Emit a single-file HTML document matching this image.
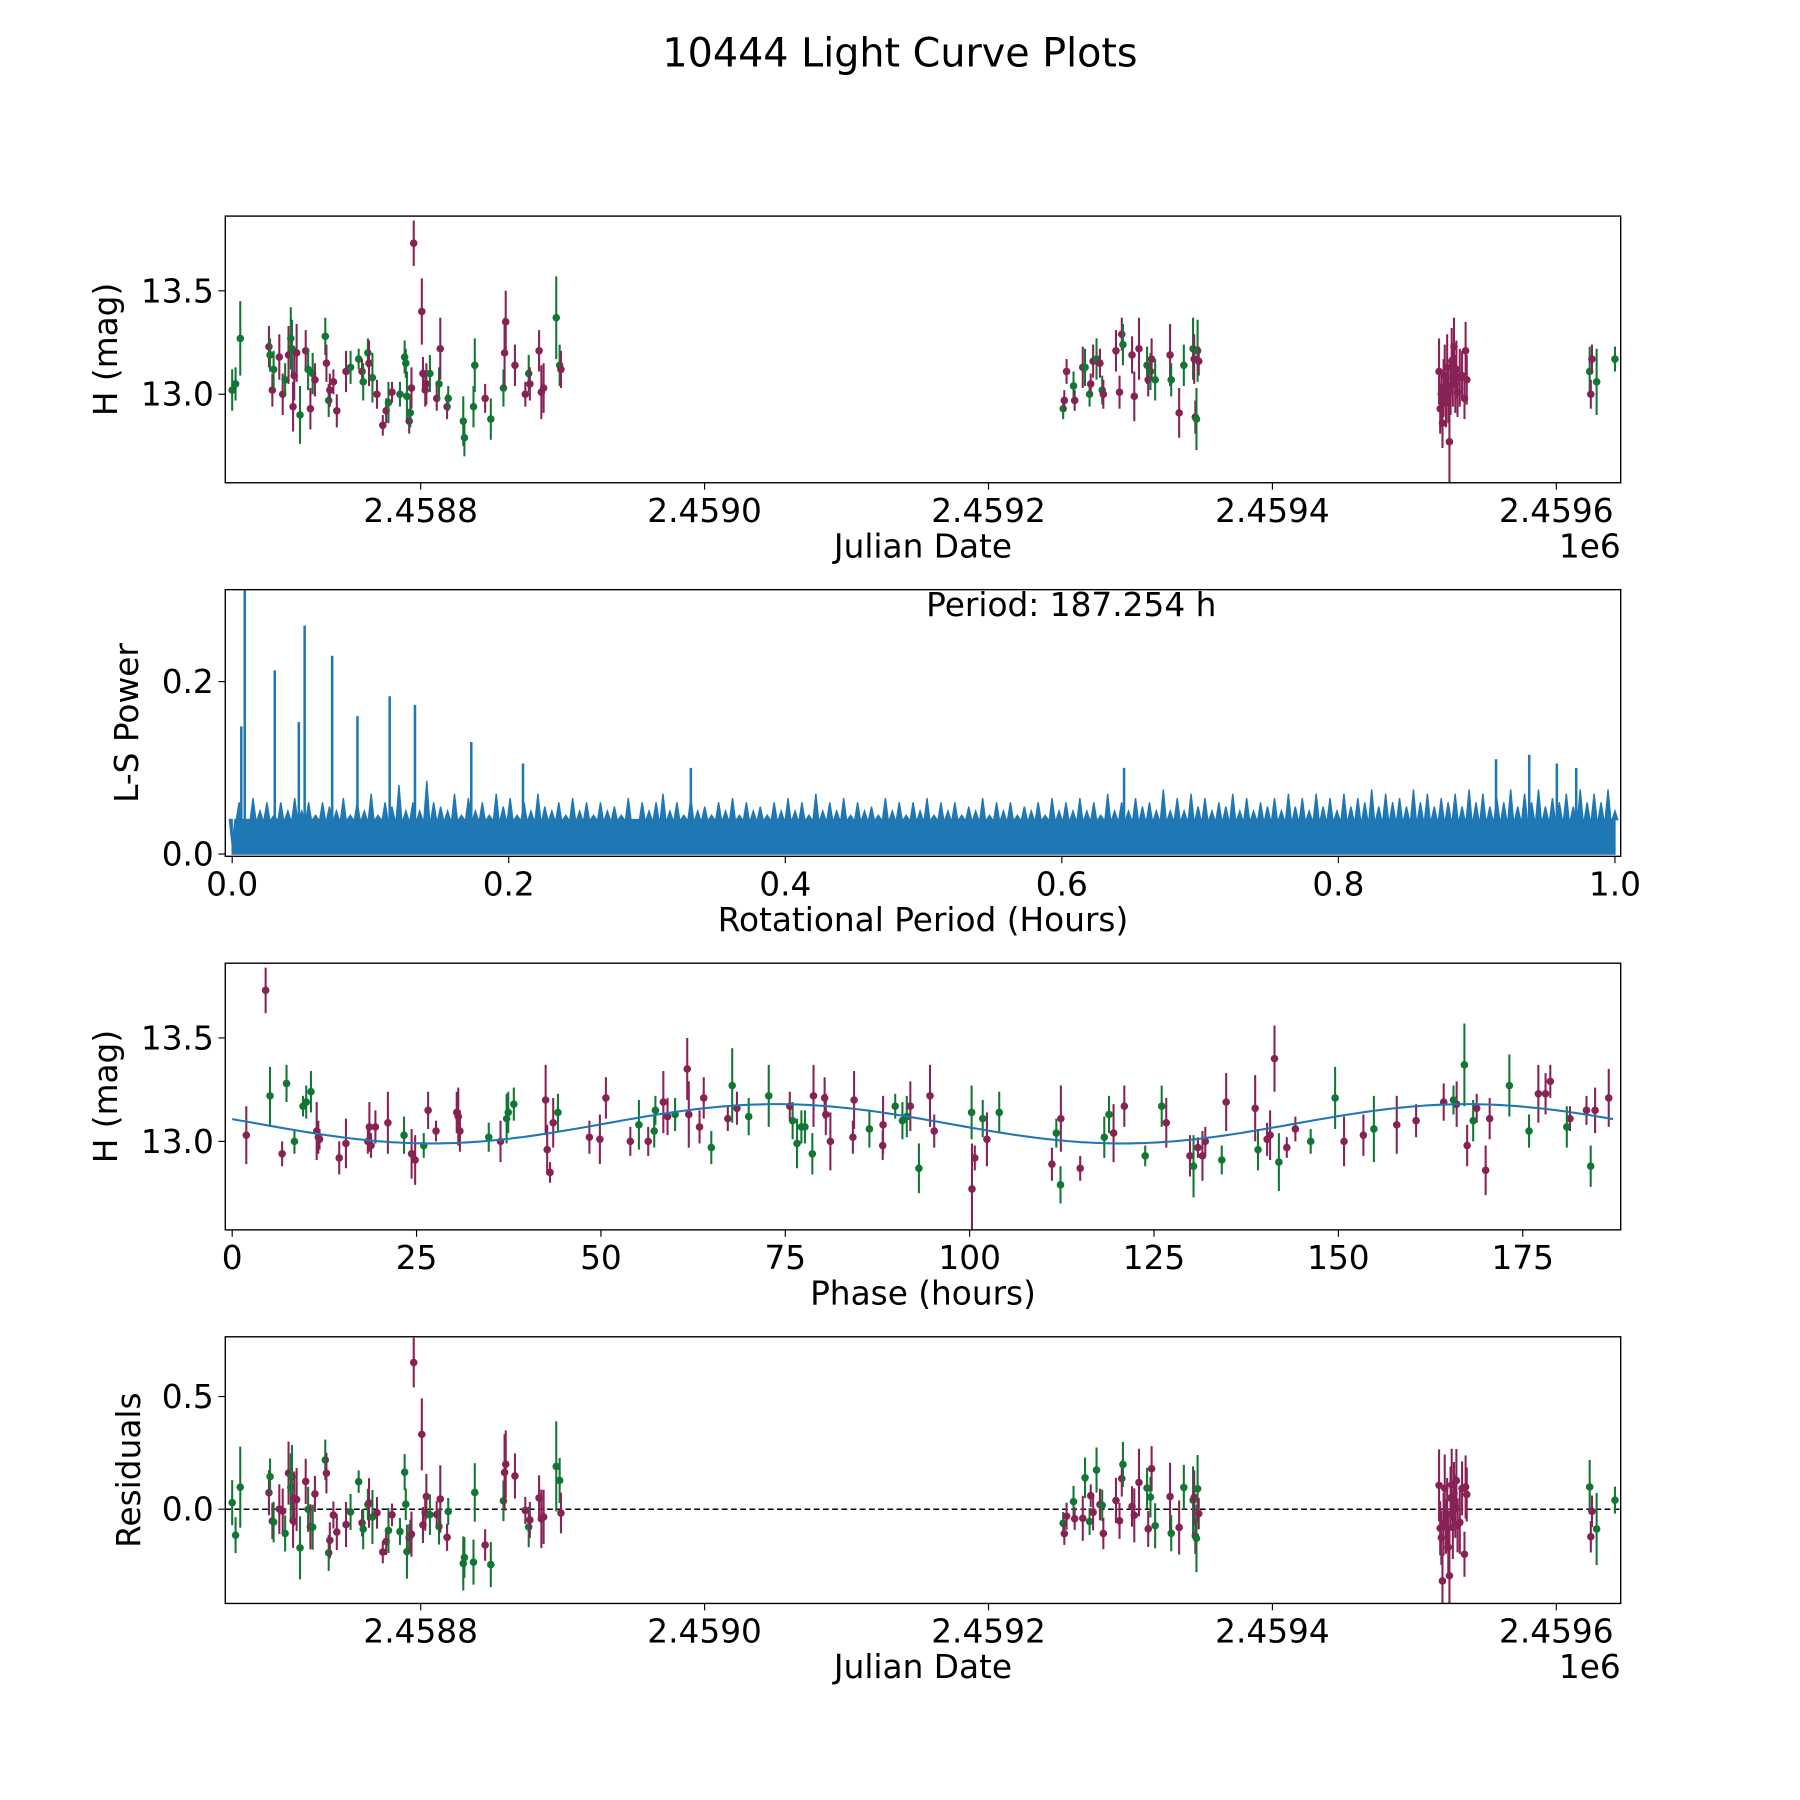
<!DOCTYPE html>
<html><head><meta charset="utf-8"><title>10444 Light Curve Plots</title>
<style>
html,body{margin:0;padding:0;background:#fff;}
svg{display:block;font-family:"DejaVu Sans","Liberation Sans",sans-serif;}
</style></head>
<body>
<svg id="fig" xmlns="http://www.w3.org/2000/svg" width="1800" height="1800" viewBox="0 0 1566 1566">
<rect width="1566" height="1566" fill="#fff"/>
<text x="783" y="58" font-size="34.5" text-anchor="middle" fill="#000">10444 Light Curve Plots</text>
</svg>
<script>
// ---- data (JD - 2458000, magnitude, error, filter: 1=green, 0=maroon) ----
const jdDays = [667.2,669.6,672.9,693.1,693.9,695.5,696.4,700.4,702.8,704.5,706.9,708.5,709.3,710.1,710.9,712.6,715.0,719.0,720.7,722.3,723.9,725.5,732.8,733.6,735.2,736.0,738.5,740.9,747.4,750.6,756.3,758.7,759.5,762.8,763.6,766.0,769.2,773.3,775.7,777.3,779.8,785.4,788.7,789.5,790.3,791.9,792.7,793.5,795.1,800.8,801.6,803.2,804.0,806.5,811.3,812.9,813.8,818.6,819.4,830.0,830.8,837.2,838.1,845.4,849.4,858.3,859.1,859.9,866.4,873.7,876.1,876.9,883.4,885.0,886.6,895.5,897.9,898.8,
1252.6,1253.4,1255.0,1259.9,1260.7,1266.4,1268.0,1271.2,1272.0,1273.7,1276.1,1278.5,1280.1,1280.9,1289.8,1292.3,1293.9,1294.7,1301.1,1302.7,1306.0,1311.7,1312.5,1314.1,1314.9,1317.4,1327.9,1328.7,1334.3,1337.6,1344.1,1344.9,1345.7,1346.5,1347.3,1348.1,
1517.4,1518.2,1519.0,1519.8,1520.6,1521.4,1522.3,1523.1,1523.9,1524.7,1525.5,1526.3,1527.1,1527.9,1528.8,1529.6,1530.4,1532.0,1533.6,1535.3,1536.1,1536.9,
1623.5,1624.3,1625.1,1628.4,1641.3];
const mags = [13.02,13.05,13.27,13.23,13.19,13.02,13.12,13.18,13.0,13.07,13.19,13.27,13.22,12.94,13.09,13.2,12.9,13.21,13.12,12.93,13.1,13.07,13.28,13.15,12.97,13.02,13.06,12.92,13.11,13.13,13.17,13.11,13.06,13.2,13.15,13.08,13.0,12.85,12.92,12.96,13.01,13.0,13.18,13.15,12.99,12.87,12.91,13.03,13.73,13.4,13.1,13.02,13.05,13.1,12.98,13.05,13.22,12.94,12.98,12.87,12.79,12.94,13.14,12.98,12.88,13.03,13.2,13.35,13.14,13.0,13.1,13.05,13.21,13.01,13.03,13.37,13.14,13.12,
12.93,12.97,13.11,13.04,12.97,13.13,13.13,13.0,13.05,13.16,13.17,13.15,13.02,13.0,13.21,13.01,13.29,13.24,13.19,12.99,13.22,13.14,13.07,13.11,13.17,13.07,13.19,13.07,12.91,13.14,13.22,13.17,12.89,12.88,13.21,13.16,
13.11,12.93,13.0,12.86,13.03,13.09,12.96,13.13,13.0,12.77,13.04,13.16,13.08,13.23,13.05,13.12,13.01,13.08,13.09,12.98,13.21,13.07,
13.11,13.0,13.17,13.06,13.17];
const errs = [0.1,0.08,0.18,0.1,0.08,0.08,0.09,0.11,0.1,0.08,0.14,0.15,0.14,0.12,0.12,0.14,0.14,0.1,0.1,0.1,0.1,0.08,0.09,0.09,0.08,0.08,0.06,0.08,0.1,0.08,0.05,0.06,0.09,0.07,0.11,0.12,0.07,0.05,0.06,0.1,0.05,0.06,0.08,0.07,0.12,0.06,0.07,0.1,0.11,0.16,0.08,0.08,0.1,0.09,0.06,0.08,0.15,0.06,0.06,0.12,0.09,0.1,0.13,0.07,0.1,0.09,0.17,0.15,0.1,0.06,0.09,0.08,0.1,0.13,0.12,0.2,0.1,0.09,
0.05,0.05,0.06,0.07,0.05,0.1,0.09,0.06,0.05,0.08,0.1,0.07,0.07,0.07,0.1,0.08,0.08,0.1,0.09,0.12,0.15,0.09,0.08,0.09,0.1,0.1,0.15,0.08,0.12,0.1,0.15,0.12,0.08,0.15,0.15,0.07,
0.16,0.12,0.12,0.12,0.14,0.15,0.12,0.16,0.14,0.22,0.14,0.16,0.14,0.14,0.14,0.14,0.12,0.14,0.12,0.1,0.14,0.12,
0.12,0.07,0.07,0.16,0.06];
const filters = [1,1,1,0,1,0,1,0,0,1,0,1,1,0,0,0,1,0,1,0,1,0,1,0,1,0,0,0,0,1,1,0,1,1,0,1,0,0,0,1,0,1,1,1,1,0,1,0,0,0,0,0,0,1,0,1,0,0,1,1,1,1,1,0,1,1,0,0,0,0,1,0,0,0,0,1,1,0,
1,0,0,1,0,0,1,1,0,0,1,0,1,0,0,0,0,1,0,0,0,1,0,1,0,1,0,1,0,1,1,0,0,1,1,0,
0,0,0,0,0,0,0,0,0,0,0,0,0,0,0,0,0,0,0,0,0,0,
1,0,0,1,1];
// model & period
const periodHours = 187.254;
const phaseOffsetHours = 69;
const modelMean = 13.085, modelAmp = 0.095, modelMinPhase = 27;
// Lomb-Scargle power: background spikes over period 0..1 h, plus strong peaks
const lsFloor = 0.04;
const lsBackground = [0.01,0.06,0.04,0.065,0.05,0.06,0.045,0.06,0.05,0.065,0.05,0.06,0.045,0.06,0.055,0.05,0.065,0.045,0.06,0.05,
0.07,0.045,0.06,0.055,0.08,0.05,0.06,0.05,0.085,0.06,0.055,0.05,0.07,0.045,0.065,0.05,0.06,0.045,0.07,0.055,
0.065,0.045,0.06,0.05,0.07,0.055,0.05,0.06,0.045,0.065,0.05,0.06,0.045,0.06,0.05,0.055,0.045,0.065,0.04,0.06,
0.05,0.06,0.07,0.05,0.06,0.045,0.065,0.05,0.055,0.045,0.06,0.05,0.065,0.045,0.06,0.05,0.055,0.045,0.06,0.05,
0.065,0.05,0.06,0.045,0.07,0.05,0.06,0.05,0.065,0.045,0.06,0.05,0.055,0.045,0.065,0.05,0.06,0.045,0.06,0.05,
0.065,0.045,0.06,0.05,0.06,0.045,0.055,0.05,0.065,0.045,0.06,0.05,0.06,0.045,0.055,0.05,0.06,0.045,0.065,0.05,
0.06,0.05,0.065,0.05,0.06,0.045,0.07,0.05,0.06,0.05,0.065,0.055,0.06,0.05,0.075,0.05,0.065,0.05,0.07,0.055,
0.065,0.05,0.06,0.055,0.07,0.05,0.065,0.05,0.06,0.055,0.065,0.05,0.07,0.055,0.065,0.05,0.07,0.055,0.065,0.05,
0.07,0.055,0.065,0.06,0.075,0.055,0.07,0.06,0.065,0.055,0.075,0.06,0.07,0.055,0.065,0.06,0.07,0.055,0.075,0.06,
0.07,0.055,0.065,0.06,0.075,0.055,0.07,0.06,0.075,0.055,0.065,0.06,0.07,0.055,0.075,0.06,0.07,0.06,0.075,0.05];
const lsPeakPeriods = [0.0066,0.0091,0.0308,0.0482,0.0524,0.0723,0.0906,0.1139,0.1322,0.1729,0.2103,0.3317,0.645,0.914,0.938,0.958,0.972];
const lsPeakPowers  = [0.148,0.31,0.213,0.153,0.265,0.23,0.16,0.183,0.173,0.13,0.105,0.10,0.10,0.11,0.115,0.105,0.10];
const jdTicks = [8800,9000,9200,9400,9600];
const jdTickLabels = ["2.4588","2.4590","2.4592","2.4594","2.4596"];
const magTicks = [13.0,13.5], magTickLabels = ["13.0","13.5"];
const lsXTicks = [0,0.2,0.4,0.6,0.8,1.0], lsXTickLabels = ["0.0","0.2","0.4","0.6","0.8","1.0"];
const lsYTicks = [0,0.2], lsYTickLabels = ["0.0","0.2"];
const phaseTicks = [0,25,50,75,100,125,150,175], phaseTickLabels = ["0","25","50","75","100","125","150","175"];
const resTicks = [0,0.5], resTickLabels = ["0.0","0.5"];

const NS = "http://www.w3.org/2000/svg";
const svg = document.getElementById('fig');
const COL = ['#882255', '#117733'];
const FS = 28.5;
function mk(tag, attrs, parent) { const e = document.createElementNS(NS, tag); for (const k in attrs) e.setAttribute(k, attrs[k]); (parent || svg).appendChild(e); return e; }
function lin(d0, d1, p0, p1) { return v => p0 + (v - d0) * (p1 - p0) / (d1 - d0); }
function model(ph) { return modelMean - modelAmp * Math.cos(2 * Math.PI * (ph - modelMinPhase) / (periodHours / 2)); }
function phaseOf(d) { let p = ((d - jdDays[0]) * 24 - phaseOffsetHours) % periodHours; return p < 0 ? p + periodHours : p; }

const L = 196, R = 1410;
function axes(name, top, bot, xs, ys, xt, xtl, yt, ytl, xlabel, ylabel, ylabX, offsetText) {
  const g = mk('g', {});
  
  
  xt.forEach((v, i) => {
    const x = xs(v);
    const t = mk('line', { x1: x, x2: x, y1: bot, y2: bot + 6, stroke: '#000', 'stroke-width': 1 }, g);
    
    
    const l = mk('text', { x: x, y: bot + 34, 'font-size': FS, 'text-anchor': 'middle' }, g);
    
    
    l.textContent = xtl[i];
  });
  yt.forEach((v, i) => {
    const y = ys(v);
    const t = mk('line', { x1: L - 6, x2: L, y1: y, y2: y, stroke: '#000', 'stroke-width': 1 }, g);
    
    
    const l = mk('text', { x: L - 10, y: y + 10, 'font-size': FS, 'text-anchor': 'end' }, g);
    
    
    l.textContent = ytl[i];
  });
  const xl = mk('text', { x: (L + R) / 2, y: bot + 65, 'font-size': FS, 'text-anchor': 'middle' }, g);
  
  
  xl.textContent = xlabel;
  const cy = (top + bot) / 2;
  const yl = mk('text', { x: ylabX, y: cy, 'font-size': FS, 'text-anchor': 'middle', transform: `rotate(-90 ${ylabX} ${cy})` }, g);
  
  
  yl.textContent = ylabel;
  if (offsetText) {
    const o = mk('text', { x: R, y: bot + 65, 'font-size': FS, 'text-anchor': 'end' }, g);
    
    
    o.textContent = offsetText;
  }
  const clipId = name + '-clip';
  const cp = mk('clipPath', { id: clipId }, g);
  mk('rect', { x: L, y: top, width: R - L, height: bot - top }, cp);
  const plot = mk('g', { 'clip-path': `url(#${clipId})` }, g);
  
  
  return { g, plot, frame: () => { const f = mk('rect', { x: L, y: top, width: R - L, height: bot - top, fill: 'none', stroke: '#000', 'stroke-width': 1.2 }, g);   } };
}
function errPoint(parent, x, y, ylo, yhi, color, name) {
  const b = mk('line', { x1: x, x2: x, y1: ylo, y2: yhi, stroke: color, 'stroke-width': 1.8 }, parent);
  
  
  const c = mk('circle', { cx: x, cy: y, r: 3.3, fill: color }, parent);
  
  
}

// Panel 1: light curve vs JD
{
  const top = 188, bot = 420;
  const xs = lin(8800, 9000, 366, 613), ys = lin(13.0, 13.5, 343, 253);
  const a = axes('light-curve-panel', top, bot, xs, ys, jdTicks, jdTickLabels, magTicks, magTickLabels, 'Julian Date', 'H (mag)', 102, '1e6');
  jdDays.forEach((d, i) => errPoint(a.plot, xs(d + 8000), ys(mags[i]), ys(mags[i] - errs[i]), ys(mags[i] + errs[i]), COL[filters[i]], 'data-point'));
  a.frame();
}
// Panel 2: periodogram
{
  const top = 513, bot = 745;
  const xs = lin(0, 1, 202, 1405), ys = lin(0, 0.2, 743, 593);
  const a = axes('periodogram-panel', top, bot, xs, ys, lsXTicks, lsXTickLabels, lsYTicks, lsYTickLabels, 'Rotational Period (Hours)', 'L-S Power', 120, null);
  const n = lsBackground.length;
  const step = 1 / (n - 1);
  let s = `${xs(0)},${ys(0)} ${xs(0)},${ys(lsFloor)} `;
  lsBackground.forEach((v, i) => {
    const p = i * step;
    s += `${xs(p - step * 0.4).toFixed(1)},${ys(lsFloor).toFixed(1)} ${xs(p).toFixed(1)},${ys(v).toFixed(1)} ${xs(p + step * 0.4).toFixed(1)},${ys(lsFloor).toFixed(1)} `;
  });
  s += `${xs(1)},${ys(lsFloor)} ${xs(1)},${ys(0)}`;
  const body = mk('polygon', { points: s, fill: '#1f77b4', stroke: '#1f77b4', 'stroke-width': 1.2, 'stroke-linejoin': 'miter' }, a.plot);
  
  
  lsPeakPeriods.forEach((p, i) => {
    const sp = mk('line', { x1: xs(p), x2: xs(p), y1: ys(0), y2: ys(lsPeakPowers[i]), stroke: '#1f77b4', 'stroke-width': 2.2 }, a.plot);
    
    
  });
  const pt = mk('text', { x: 932, y: 536, 'font-size': FS, 'text-anchor': 'middle' }, a.g);
  
  
  pt.textContent = 'Period: ' + periodHours.toFixed(3) + ' h';
  a.frame();
}
// Panel 3: phased light curve
{
  const top = 838, bot = 1070;
  const xs = lin(0, 25, 202, 362.4), ys = lin(13.0, 13.5, 993, 903);
  const a = axes('phased-curve-panel', top, bot, xs, ys, phaseTicks, phaseTickLabels, magTicks, magTickLabels, 'Phase (hours)', 'H (mag)', 102, null);
  jdDays.forEach((d, i) => { const ph = phaseOf(d); errPoint(a.plot, xs(ph), ys(mags[i]), ys(mags[i] - errs[i]), ys(mags[i] + errs[i]), COL[filters[i]], 'phased-point'); });
  let s = '';
  for (let k = 0; k <= 200; k++) { const ph = k / 200 * periodHours; s += `${xs(ph).toFixed(1)},${ys(model(ph)).toFixed(1)} `; }
  const m = mk('polyline', { points: s, fill: 'none', stroke: '#1f77b4', 'stroke-width': 1.8 }, a.plot);
  
  
  a.frame();
}
// Panel 4: residuals
{
  const top = 1163, bot = 1395;
  const xs = lin(8800, 9000, 366, 613), ys = lin(0, 0.5, 1313, 1215);
  const a = axes('residuals-panel', top, bot, xs, ys, jdTicks, jdTickLabels, resTicks, resTickLabels, 'Julian Date', 'Residuals', 122, '1e6');
  const z = mk('line', { x1: L, x2: R, y1: ys(0), y2: ys(0), stroke: '#000', 'stroke-width': 1.3, 'stroke-dasharray': '5,3' }, a.plot);
  
  
  jdDays.forEach((d, i) => { const r = mags[i] - model(phaseOf(d)); errPoint(a.plot, xs(d + 8000), ys(r), ys(r - errs[i]), ys(r + errs[i]), COL[filters[i]], 'residual-point'); });
  a.frame();
}
</script>
</body></html>
